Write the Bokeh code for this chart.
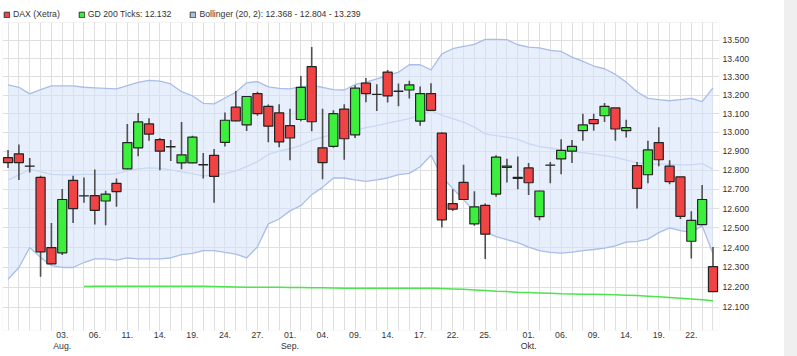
import numpy as np
import pandas as pd
from bokeh.plotting import figure
from bokeh.models import (Range1d, FixedTicker, Legend, LegendItem, LinearAxis,
                          BoxAnnotation, Spacer)
from bokeh.layouts import row
from bokeh.embed import file_html
from bokeh.resources import INLINE

# ---------------- data (DAX Xetra, daily, points) ----------------
dates = pd.bdate_range("2020-07-27", "2020-10-26")

opens = [12866, 12886, 12822, 12762, 12400, 12373, 12747, 12666, 12667, 12639,
         12731, 12807, 12918, 13045, 12961, 12924, 12838, 12838, 12829, 12878,
         12947, 13135, 13040, 13209, 13140, 13105, 13036, 13069, 13356, 12918,
         12926, 13125, 12987, 13265, 13205, 13326, 13222, 13228, 13060, 13209,
         12996, 12626, 12736, 12521, 12616, 12675, 12815, 12757, 12812, 12558,
         12827, 12859, 12900, 13009, 13069, 13089, 13131, 13009, 12824, 12776,
         12946, 12821, 12765, 12432, 12517, 12303]
highs = [12907, 12935, 12864, 12771, 12526, 12702, 12771, 12762, 12803, 12693,
         12757, 13045, 13104, 13076, 12970, 12960, 13055, 12982, 12891, 12912,
         13107, 13223, 13195, 13218, 13149, 13151, 13127, 13305, 13463, 13127,
         13118, 13151, 13254, 13293, 13259, 13337, 13263, 13279, 13247, 13265,
         13000, 12700, 12829, 12690, 12626, 12878, 12860, 12872, 12838, 12692,
         12843, 12964, 12960, 13100, 13100, 13158, 13131, 13067, 12843, 12956,
         13027, 12852, 12765, 12586, 12722, 12403]
lows = [12812, 12748, 12788, 12252, 12315, 12362, 12526, 12630, 12518, 12514,
        12609, 12805, 12874, 12956, 12800, 12848, 12805, 12836, 12757, 12630,
        12925, 13060, 13007, 13089, 12947, 12921, 12852, 13060, 13006, 12753,
        12918, 12855, 12970, 13162, 13115, 13160, 13140, 13182, 13035, 13118,
        12503, 12588, 12647, 12511, 12342, 12661, 12736, 12700, 12670, 12540,
        12731, 12779, 12838, 12955, 13009, 13055, 12955, 12973, 12600, 12731,
        12821, 12726, 12546, 12345, 12517, 12177]
closes = [12840, 12840, 12821, 12378, 12317, 12647, 12600, 12665, 12591, 12675,
          12688, 12946, 13056, 12991, 12900, 12923, 12881, 12975, 12828, 12767,
          13065, 13062, 13193, 13100, 13033, 12949, 12970, 13242, 13057, 12840,
          13100, 12966, 13238, 13209, 13204, 13196, 13221, 13256, 13209, 13118,
          12542, 12597, 12647, 12609, 12468, 12869, 12822, 12762, 12734, 12691,
          12826, 12904, 12926, 13040, 13047, 13140, 13018, 13025, 12705, 12907,
          12855, 12740, 12560, 12539, 12647, 12178]

boll_upper = [13256, 13243, 13207, 13230, 13250, 13250, 13250, 13243, 13240, 13237,
              13234, 13252, 13269, 13280, 13276, 13261, 13219, 13197, 13156, 13153,
              13185, 13216, 13267, 13274, 13245, 13237, 13234, 13246, 13252, 13243,
              13230, 13228, 13258, 13271, 13289, 13307, 13325, 13366, 13366, 13338,
              13426, 13454, 13467, 13478, 13506, 13506, 13504, 13476, 13463, 13459,
              13445, 13439, 13408, 13384, 13359, 13344, 13313, 13271, 13219, 13183,
              13176, 13170, 13176, 13183, 13165, 13239]
boll_mid = [12748, 12775, 12805, 12792, 12778, 12775, 12775, 12778, 12778, 12778,
            12782, 12796, 12807, 12812, 12809, 12802, 12791, 12782, 12770, 12775,
            12782, 12796, 12819, 12845, 12883, 12900, 12913, 12931, 12957, 12975,
            12990, 13000, 13011, 13025, 13036, 13050, 13061, 13074, 13092, 13115,
            13092, 13074, 13055, 13028, 12992, 12983, 12975, 12963, 12940, 12924,
            12917, 12906, 12899, 12892, 12885, 12877, 12867, 12853, 12840, 12832,
            12832, 12830, 12828, 12828, 12835, 12804]
boll_lower = [12240, 12299, 12400, 12350, 12308, 12299, 12299, 12324, 12342, 12342,
              12336, 12347, 12342, 12342, 12342, 12347, 12364, 12370, 12384, 12384,
              12375, 12367, 12347, 12404, 12521, 12546, 12588, 12615, 12672, 12710,
              12759, 12759, 12749, 12741, 12749, 12759, 12777, 12783, 12818, 12879,
              12766, 12704, 12646, 12583, 12481, 12456, 12440, 12425, 12402, 12384,
              12375, 12372, 12377, 12384, 12390, 12397, 12408, 12428, 12431, 12443,
              12476, 12500, 12486, 12477, 12512, 12368]

nan = float("nan")
gd200 = [nan, nan, nan, nan, nan, nan, nan,
         12203, 12204, 12204, 12205, 12205, 12205,
         12205, 12205, 12205, 12205, 12205, 12204, 12203,
         12202, 12201, 12200, 12200, 12200, 12199, 12198,
         12198, 12197, 12197, 12196, 12195, 12195, 12195,
         12195, 12195, 12195, 12195, 12195, 12195, 12193,
         12191, 12189, 12186, 12183, 12180, 12178, 12175,
         12173, 12171, 12169, 12167, 12166, 12165, 12164,
         12163, 12162, 12160, 12158, 12155, 12152, 12149,
         12145, 12141, 12137, 12132]

tick_dates = ["2020-08-03", "2020-08-06", "2020-08-11", "2020-08-14", "2020-08-19",
              "2020-08-24", "2020-08-27", "2020-09-01", "2020-09-04", "2020-09-09",
              "2020-09-14", "2020-09-17", "2020-09-22", "2020-09-25", "2020-10-01",
              "2020-10-06", "2020-10-09", "2020-10-14", "2020-10-19", "2020-10-22"]
month_dates = ["2020-08-03", "2020-09-01", "2020-10-01"]
month_names = ["Aug.", "Sep.", "Okt."]
y_ticks = [12100, 12200, 12300, 12400, 12500, 12600, 12700, 12800, 12900,
           13000, 13100, 13200, 13300, 13400, 13500]

# ---------------- styling ----------------
RED = "#f04343"
GREEN = "#3def3d"
FONT = "Liberation Sans"
FS = "8.7px"
TXT = "#333333"
GRID = "#dfdfdf"
X0, X1 = -0.51, 65.6
Y0, YTOP, Y1 = 11985, 13600, 13678   # Y1: room above the chart for the legend


def de(v):
    return f"{int(round(v)):,}".replace(",", ".")


x = np.arange(len(dates))
top = [max(o, c) for o, c in zip(opens, closes)]
bot = [min(o, c) for o, c in zip(opens, closes)]
cols = [GREEN if c > o else RED for o, c in zip(opens, closes)]

p = figure(width=784, height=356, y_axis_type="log", y_axis_location="right",
           x_range=Range1d(X0, X1), y_range=Range1d(Y0, Y1),
           output_backend="svg", toolbar_location=None,
           min_border_left=2, min_border_right=65, min_border_top=8,
           min_border_bottom=26)
p.background_fill_color = "white"
p.border_fill_color = "white"
p.outline_line_color = None

# grids
p.xgrid.ticker = FixedTicker(ticks=list(range(len(dates))))
p.ygrid.ticker = FixedTicker(ticks=y_ticks)
p.xgrid.grid_line_color = GRID
p.ygrid.grid_line_color = GRID

# Bollinger band
p.varea(x=x, y1=boll_lower, y2=boll_upper, fill_color="#d6e2fa", fill_alpha=0.55)
p.line(x, boll_upper, line_color="#a8bde8", line_width=1.3)
p.line(x, boll_lower, line_color="#a8bde8", line_width=1.3)
p.line(x, boll_mid, line_color="#c8d7f4", line_width=1.3)

# GD 200
p.line(x, gd200, line_color="#4ee34e", line_width=1.5)

# candles
p.segment(x0=x, y0=highs, x1=x, y1=lows, line_color="#505050", line_width=1.6)
p.vbar(x=x, width=0.84, top=top, bottom=bot, fill_color=cols,
       line_color="#242424", line_width=1.2)

# white strip above the chart area (holds legend) and chart border
p.add_layout(BoxAnnotation(bottom=YTOP, fill_color="white", fill_alpha=1,
                           line_color=None, level="overlay"))
p.add_layout(BoxAnnotation(left=X0, right=X1, bottom=Y0, top=YTOP, fill_alpha=0,
                           line_color="#d6d6d6", line_width=1, level="overlay"))

# y axis (right)
ax = p.yaxis[0]
ax.ticker = FixedTicker(ticks=y_ticks)
ax.major_label_overrides = {t: de(t) for t in y_ticks}
ax.axis_line_color = None
ax.major_tick_line_color = None
ax.minor_tick_line_color = None
ax.major_tick_out = 0
ax.major_tick_in = 0
ax.major_label_standoff = 3
ax.major_label_text_font = FONT
ax.major_label_text_font_size = FS
ax.major_label_text_color = TXT

date_strs = [d.strftime("%Y-%m-%d") for d in dates]
tick_idx = [date_strs.index(t) for t in tick_dates]
month_idx = [date_strs.index(t) for t in month_dates]


def style_x(a):
    a.axis_line_color = None
    a.major_tick_line_color = None
    a.minor_tick_line_color = None
    a.major_tick_out = 0
    a.major_tick_in = 0
    a.major_label_text_font = FONT
    a.major_label_text_font_size = FS
    a.major_label_text_color = TXT


xa = p.xaxis[0]
xa.ticker = FixedTicker(ticks=tick_idx)
xa.major_label_overrides = {i: pd.Timestamp(t).strftime("%d.") for i, t in zip(tick_idx, tick_dates)}
xa.major_label_standoff = 1
style_x(xa)

xm = LinearAxis(ticker=FixedTicker(ticks=month_idx),
                major_label_overrides={i: m for i, m in zip(month_idx, month_names)},
                major_label_standoff=0)
style_x(xm)
p.add_layout(xm, "below")

# legend (inside the top strip); hidden bar renderers give square swatches
r1 = p.vbar(x=[0], width=0.5, top=[12100], bottom=[12000], fill_color=RED,
            line_color="#333333", visible=False)
r2 = p.vbar(x=[0], width=0.5, top=[12100], bottom=[12000], fill_color=GREEN,
            line_color="#333333", visible=False)
r3 = p.vbar(x=[0], width=0.5, top=[12100], bottom=[12000], fill_color="#a9bfe8",
            line_color="#444444", visible=False)
legend = Legend(items=[
    LegendItem(label="DAX (Xetra)", renderers=[r1]),
    LegendItem(label=f"GD 200 Ticks: {de(gd200[-1])}", renderers=[r2]),
    LegendItem(label=f"Bollinger (20, 2): {de(boll_lower[-1])} - {de(boll_mid[-1])} - {de(boll_upper[-1])}",
               renderers=[r3]),
], orientation="horizontal", location="top_left", glyph_width=7, glyph_height=7,
    label_height=10, label_standoff=3, spacing=18, padding=0, margin=1,
    border_line_color=None, background_fill_alpha=0,
    label_text_font=FONT, label_text_font_size=FS, label_text_color=TXT)
p.add_layout(legend, "center")

strip = Spacer(width=13, height=356, styles={"background-color": "#efefef"})
layout = row(p, strip)

open("out.html", "w").write(file_html(layout, INLINE))
